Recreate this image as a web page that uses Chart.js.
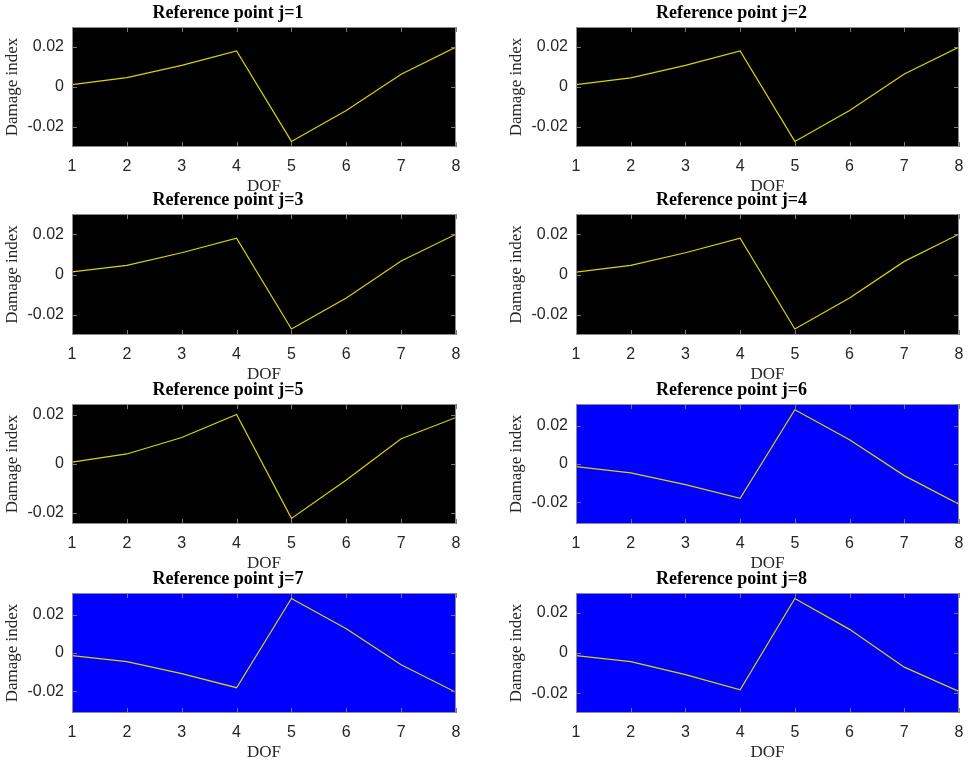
<!DOCTYPE html>
<html>
<head>
<meta charset="utf-8">
<script src="https://cdn.jsdelivr.net/npm/chart.js@4/dist/chart.umd.min.js"></script>
<style>
  html, body { margin: 0; padding: 0; background: #ffffff; width: 968px; height: 761px; overflow: hidden; }
  canvas { position: absolute; }
</style>
</head>
<body>
<script>
// ---- data ----
const dof = [1, 2, 3, 4, 5, 6, 7, 8];
const titles = ["Reference point j=1", "Reference point j=2", "Reference point j=3", "Reference point j=4",
                "Reference point j=5", "Reference point j=6", "Reference point j=7", "Reference point j=8"];
const s1 = [0.0012, 0.0047, 0.0108, 0.0180, -0.0272, -0.0117, 0.0064, 0.0200];
const s2 = [0.0012, 0.0046, 0.0108, 0.0180, -0.0272, -0.0117, 0.0065, 0.0200];
const s3 = [0.0013, 0.0045, 0.0108, 0.0180, -0.0270, -0.0117, 0.0067, 0.0200];
const s4 = [0.0012, 0.0045, 0.0108, 0.0180, -0.0270, -0.0117, 0.0065, 0.0200];
const s5 = [0.0008, 0.0041, 0.0108, 0.0202, -0.0222, -0.0065, 0.0103, 0.0190];
const s6 = [-0.0014, -0.0047, -0.0108, -0.0180, 0.0285, 0.0127, -0.0061, -0.0211];
const s7 = [-0.0014, -0.0045, -0.0108, -0.0181, 0.0284, 0.0127, -0.0061, -0.0205];
const s8 = [-0.0013, -0.0043, -0.0107, -0.0182, 0.0270, 0.0117, -0.0070, -0.0190];
const series = [s1, s2, s3, s4, s5, s6, s7, s8];
const yLimits = [0.030, 0.030, 0.030, 0.030, 0.0245, 0.0315, 0.0313, 0.0297];
const yTicks = [-0.02, 0, 0.02];
const xTicks = [1, 2, 3, 4, 5, 6, 7, 8];
const xLabel = "DOF";
const yLabel = "Damage index";

// ---- layout / style ----
const plotRects = [
  [72, 27, 456, 147], [576, 27, 959, 147],
  [72, 214, 456, 335], [576, 214, 959, 335],
  [72, 404, 456, 524], [576, 404, 959, 524],
  [72, 593, 456, 713], [576, 593, 959, 713]
];
const bgColors = ["#000000", "#000000", "#000000", "#000000", "#000000", "#0000ff", "#0000ff", "#0000ff"];
const TITLE_H = 27, YAXIS_W = 72, XAXIS_H = 50, RIGHT_PAD = 18;

const axesPlugin = {
  id: 'matlabAxes',
  beforeDatasetsDraw(chart, args, opts) {
    const a = chart.chartArea, ctx = chart.ctx;
    ctx.save();
    ctx.fillStyle = opts.bg;
    ctx.fillRect(a.left, a.top, a.right - a.left, a.bottom - a.top);
    ctx.restore();
  },
  afterDatasetsDraw(chart) {
    const a = chart.chartArea, ctx = chart.ctx;
    const xs = chart.scales.x, ys = chart.scales.y;
    ctx.save();
    ctx.strokeStyle = '#7a7a7a';
    ctx.lineWidth = 1;
    ctx.beginPath();
    xTicks.forEach(v => {
      const px = Math.round(xs.getPixelForValue(v)) + 0.5;
      ctx.moveTo(px, a.bottom); ctx.lineTo(px, a.bottom - 5);
      ctx.moveTo(px, a.top); ctx.lineTo(px, a.top + 5);
    });
    yTicks.forEach(v => {
      const py = Math.round(ys.getPixelForValue(v)) + 0.5;
      ctx.moveTo(a.left, py); ctx.lineTo(a.left + 5, py);
      ctx.moveTo(a.right, py); ctx.lineTo(a.right - 5, py);
    });
    ctx.stroke();
    ctx.strokeStyle = '#8c8c8c';
    ctx.strokeRect(Math.round(a.left) + 0.5, Math.round(a.top) + 0.5,
                   Math.round(a.right - a.left) - 1, Math.round(a.bottom - a.top) - 1);
    ctx.restore();
  }
};

function fmt(v) {
  if (Math.abs(v) < 1e-12) return '0';
  return v.toFixed(2);
}

series.forEach((vals, i) => {
  const r = plotRects[i];
  const cv = document.createElement('canvas');
  const left = r[0] - YAXIS_W;
  const top = r[1] - TITLE_H;
  const w = (r[2] - r[0]) + YAXIS_W + RIGHT_PAD;
  const h = TITLE_H + (r[3] - r[1]) + XAXIS_H;
  cv.width = w; cv.height = h;
  cv.style.left = left + 'px'; cv.style.top = top + 'px';
  cv.style.width = w + 'px'; cv.style.height = h + 'px';
  document.body.appendChild(cv);

  new Chart(cv.getContext('2d'), {
    type: 'line',
    data: {
      datasets: [{
        data: dof.map((x, k) => ({ x: x, y: vals[k] })),
        borderColor: '#dcd400',
        borderWidth: 1.2,
        pointRadius: 0,
        tension: 0,
        fill: false
      }]
    },
    options: {
      responsive: false,
      animation: false,
      devicePixelRatio: 1,
      layout: { padding: { left: 0, right: RIGHT_PAD, top: 0, bottom: 0 } },
      plugins: {
        legend: { display: false },
        tooltip: { enabled: false },
        title: {
          display: true,
          text: titles[i],
          color: '#000000',
          font: { family: '"Liberation Serif", "Times New Roman", serif', size: 18, weight: 'bold', lineHeight: '21px' },
          padding: { top: 3, bottom: 3 }
        },
        matlabAxes: { bg: bgColors[i] }
      },
      scales: {
        x: {
          type: 'linear',
          min: 1, max: 8,
          afterBuildTicks: s => { s.ticks = xTicks.map(v => ({ value: v })); },
          afterFit: s => { s.height = XAXIS_H; },
          grid: { display: false, drawTicks: false },
          border: { display: false },
          ticks: {
            color: '#262626',
            font: { family: '"Liberation Sans", Arial, sans-serif', size: 16 },
            padding: 10,
            maxRotation: 0,
            autoSkip: false,
            callback: v => String(v)
          },
          title: {
            display: true,
            text: xLabel,
            color: '#262626',
            font: { family: '"Liberation Serif", "Times New Roman", serif', size: 17 },
            padding: { top: 0, bottom: 0 }
          }
        },
        y: {
          type: 'linear',
          min: -yLimits[i], max: yLimits[i],
          afterBuildTicks: s => { s.ticks = yTicks.map(v => ({ value: v })); },
          afterFit: s => { s.width = YAXIS_W; },
          grid: { display: false, drawTicks: false },
          border: { display: false },
          ticks: {
            color: '#262626',
            font: { family: '"Liberation Sans", Arial, sans-serif', size: 16 },
            padding: 8,
            callback: v => fmt(v)
          },
          title: {
            display: true,
            text: yLabel,
            color: '#262626',
            font: { family: '"Liberation Serif", "Times New Roman", serif', size: 17 },
            padding: { top: 2, bottom: 0 }
          }
        }
      }
    },
    plugins: [axesPlugin]
  });
});
</script>
</body>
</html>
